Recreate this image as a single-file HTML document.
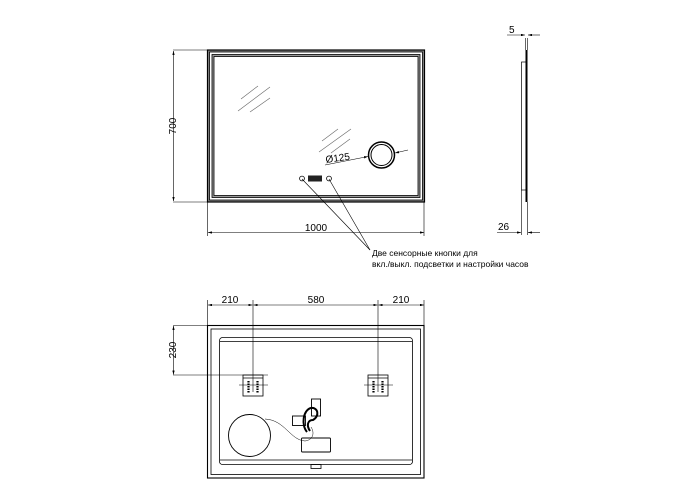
<!DOCTYPE html>
<html><head><meta charset="utf-8"><style>body{margin:0;background:#fff}svg{display:block}</style></head><body>
<svg width="700" height="500" viewBox="0 0 700 500" xmlns="http://www.w3.org/2000/svg" font-family="Liberation Sans, sans-serif" fill="none" stroke="#000">
<defs><marker id="a" viewBox="0 0 10 6" refX="10" refY="3" markerWidth="7" markerHeight="4" orient="auto-start-reverse"><path d="M0,0L10,3L0,6z" fill="#000" stroke="none"/></marker></defs>
<!-- top view -->
<rect x="207.5" y="50" width="217" height="152" fill="#888" stroke-width="1.2"/>
<rect x="209.5" y="52" width="213" height="148" fill="#fff" stroke-width="0.8"/>
<rect x="212" y="54.5" width="208" height="143" fill="#999" stroke-width="0.8"/>
<rect x="214" y="56.5" width="204" height="139" fill="#fff" stroke-width="0.8"/>
<g stroke="#666" stroke-width="0.6">
<line x1="241" y1="99" x2="258" y2="86"/><line x1="238" y1="111" x2="270" y2="87"/><line x1="250" y1="112" x2="270" y2="98"/>
<line x1="322" y1="141" x2="338" y2="129"/><line x1="319" y1="152" x2="351" y2="129"/><line x1="331" y1="153" x2="350" y2="139"/>
</g>
<circle cx="381.5" cy="155" r="13" stroke-width="1.5" fill="#fff"/>
<circle cx="381.5" cy="155" r="10.5" stroke-width="1"/>
<line x1="325" y1="165" x2="368" y2="156.5" stroke-width="0.6" marker-end="url(#a)"/>
<line x1="408" y1="150" x2="395" y2="153" stroke-width="0.6" marker-end="url(#a)"/>
<text x="326" y="163" font-size="10" fill="#000" stroke="none" transform="rotate(-8 326 163)">Ø125</text>
<circle cx="302" cy="178.5" r="2.4" stroke-width="0.8"/><circle cx="329" cy="178.5" r="2.4" stroke-width="0.8"/>
<rect x="308" y="175.5" width="14" height="6" fill="#222" stroke="none"/>
<line x1="302" y1="179" x2="370" y2="250" stroke-width="0.6"/><line x1="329" y1="179" x2="370" y2="250" stroke-width="0.6"/>
<text font-size="8.5" fill="#000" stroke="none"><tspan x="372" y="256">Две сенсорные кнопки для</tspan><tspan x="372" y="267">вкл./выкл. подсветки и настройки часов</tspan></text>
<g stroke-width="0.6">
<line x1="173" y1="50" x2="207" y2="50"/><line x1="173" y1="202" x2="207" y2="202"/>
<line x1="173.5" y1="51" x2="173.5" y2="201" marker-start="url(#a)" marker-end="url(#a)"/>
<line x1="207.5" y1="202" x2="207.5" y2="236"/><line x1="424" y1="202" x2="424" y2="236"/>
<line x1="208" y1="232.5" x2="424" y2="232.5" marker-start="url(#a)" marker-end="url(#a)"/>
</g>
<text x="316" y="231" font-size="10" fill="#000" stroke="none" text-anchor="middle">1000</text>
<text x="176" y="126" font-size="10" fill="#000" stroke="none" text-anchor="middle" transform="rotate(-90 176 126)">700</text>
<!-- side view -->
<line x1="526.5" y1="50" x2="526.5" y2="202" stroke-width="2"/>
<rect x="521.5" y="62" width="4.5" height="128" stroke-width="0.7"/>
<g stroke-width="0.6">
<line x1="525.5" y1="38" x2="525.5" y2="50"/><line x1="527.5" y1="38" x2="527.5" y2="50"/>
<line x1="507" y1="35" x2="525" y2="35" marker-end="url(#a)"/><line x1="540" y1="35" x2="528" y2="35" marker-end="url(#a)"/>
<line x1="521.5" y1="190" x2="521.5" y2="235"/><line x1="527.5" y1="202" x2="527.5" y2="235"/>
<line x1="497" y1="232.5" x2="521" y2="232.5" marker-end="url(#a)"/><line x1="540" y1="232.5" x2="528" y2="232.5" marker-end="url(#a)"/>
</g>
<text x="509" y="33" font-size="10" fill="#000" stroke="none">5</text>
<text x="498" y="230" font-size="10" fill="#000" stroke="none">26</text>
<!-- back view -->
<g stroke-width="0.8">
<rect x="207.5" y="325.5" width="216.5" height="152.5" stroke-width="1.1"/>
<rect x="211" y="329" width="209.5" height="145.5"/>
<rect x="219.5" y="337.5" width="193" height="127" rx="3"/>
<line x1="220" y1="341.5" x2="412" y2="341.5"/><line x1="220" y1="460" x2="412" y2="460"/>
<rect x="311" y="464.5" width="10" height="4"/>
</g>
<g stroke-width="0.6">
<line x1="207.5" y1="300" x2="207.5" y2="325"/><line x1="424" y1="300" x2="424" y2="325"/>
<line x1="253" y1="300" x2="253" y2="392"/><line x1="378" y1="300" x2="378" y2="392"/>
<line x1="208" y1="305" x2="252.5" y2="305" marker-start="url(#a)" marker-end="url(#a)"/>
<line x1="253.5" y1="305" x2="377.5" y2="305" marker-start="url(#a)" marker-end="url(#a)"/>
<line x1="378.5" y1="305" x2="424" y2="305" marker-start="url(#a)" marker-end="url(#a)"/>
<line x1="173" y1="325.5" x2="207" y2="325.5"/><line x1="173" y1="375" x2="268" y2="375"/>
<line x1="173.5" y1="326" x2="173.5" y2="374.5" marker-start="url(#a)" marker-end="url(#a)"/>
<line x1="239" y1="385" x2="268" y2="385"/><line x1="364" y1="385" x2="393" y2="385"/>
</g>
<text x="230" y="303" font-size="10" fill="#000" stroke="none" text-anchor="middle">210</text>
<text x="316" y="303" font-size="10" fill="#000" stroke="none" text-anchor="middle">580</text>
<text x="401" y="303" font-size="10" fill="#000" stroke="none" text-anchor="middle">210</text>
<text x="176" y="350" font-size="10" fill="#000" stroke="none" text-anchor="middle" transform="rotate(-90 176 350)">230</text>
<g stroke-width="0.8">
<rect x="243" y="375" width="20" height="21"/><line x1="243" y1="378" x2="263" y2="378"/>
<rect x="368" y="375" width="20" height="21"/><line x1="368" y1="378" x2="388" y2="378"/>
</g>
<g stroke-width="2.2" stroke-dasharray="1.5 1"><line x1="248.5" y1="381" x2="248.5" y2="393"/><line x1="257.5" y1="381" x2="257.5" y2="393"/><line x1="373.5" y1="381" x2="373.5" y2="393"/><line x1="382.5" y1="381" x2="382.5" y2="393"/></g>
<circle cx="249.5" cy="435.5" r="21" stroke-width="0.9"/>
<path d="M265 419 C285 420 290 440 305 441 C313 440 315 433 311 427" stroke-width="0.5"/>
<rect x="301.5" y="438" width="29" height="14" rx="1" stroke-width="0.9"/>
<rect x="292.5" y="416" width="13" height="9.5" stroke-width="0.9"/>
<rect x="311.5" y="399" width="9" height="17" stroke-width="0.9"/>
<path d="M307 432 C301 425 303 410 311 408 C318 407 320 416 313 420 C308 420 306 425 310 431" stroke-width="2"/>
</svg>
</body></html>
